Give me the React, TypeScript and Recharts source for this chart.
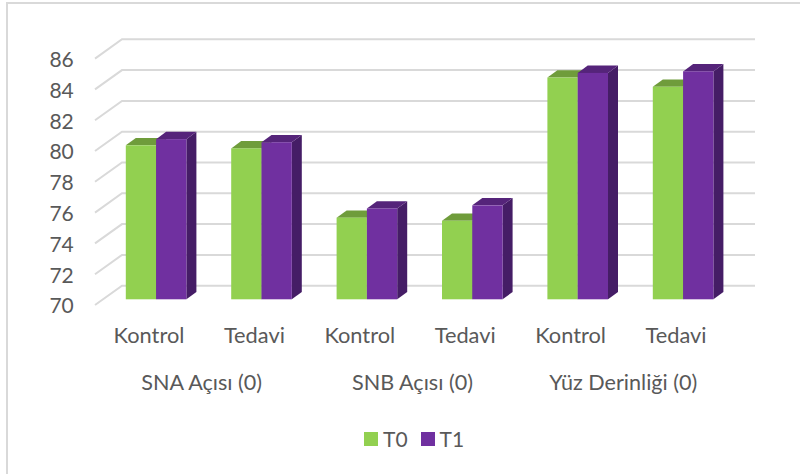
import { Bar, BarChart, CartesianGrid, Legend, XAxis, YAxis } from "recharts";

const categories = ["Kontrol", "Tedavi", "Kontrol", "Tedavi", "Kontrol", "Tedavi"];
const groups = ["SNA Açısı (0)", "SNA Açısı (0)", "SNB Açısı (0)", "SNB Açısı (0)", "Yüz Derinliği (0)", "Yüz Derinliği (0)"];
const t0Values = [80.0, 79.8, 75.3, 75.1, 84.4, 83.8];
const t1Values = [80.4, 80.2, 75.9, 76.1, 84.7, 84.8];
const yTicks = [70, 72, 74, 76, 78, 80, 82, 84, 86];

const rows = categories.map((category, i) => ({
  category,
  group: groups[i],
  T0: t0Values[i],
  T1: t1Values[i],
}));

const TEXT = "#595959";
const FONT = "Lato, sans-serif";
const DEPTH_X = 10;
const DEPTH_Y = 7.3;

// front face + top + side, so the bars look like the 3D columns of the original
const Bar3D = ({ x, y, width, height, fill, topFill, sideFill }: any) => (
  <g>
    <polygon
      points={`${x + width},${y} ${x + width + DEPTH_X},${y - DEPTH_Y} ${x + width + DEPTH_X},${y + height - DEPTH_Y} ${x + width},${y + height}`}
      fill={sideFill}
    />
    <polygon
      points={`${x},${y} ${x + DEPTH_X},${y - DEPTH_Y} ${x + width + DEPTH_X},${y - DEPTH_Y} ${x + width},${y}`}
      fill={topFill}
    />
    <rect x={x} y={y} width={width} height={height} fill={fill} />
  </g>
);

// grid runs along the floor side wall and then the back wall
const gridLine = ({ x1, y1, key }: any) => (
  <polyline
    key={key}
    points={`${x1 - 8.8},${y1 + 5.7} ${x1 + 18.2},${y1 - 13.6} 755,${y1 - 13.6}`}
    fill="none"
    stroke="#d9d9d9"
    strokeWidth={2}
  />
);

const YTick = ({ x, y, payload }: any) => (
  <text x={x} y={y + 14} textAnchor="end" fill={TEXT} fontSize={21} fontFamily={FONT}>
    {payload.value}
  </text>
);

const CategoryTick = ({ x, y, payload }: any) => (
  <text x={x - 7.5} y={y + 36} textAnchor="middle" fill={TEXT} fontSize={21.8} fontFamily={FONT}>
    {payload.value}
  </text>
);

const GroupTick = ({ x, y, payload, index }: any) =>
  index % 2 === 0 ? (
    <text x={x + 45.2} y={y + 38} textAnchor="middle" fill={TEXT} fontSize={21.6} fontFamily={FONT}>
      {payload.value}
    </text>
  ) : null;

const LegendContent = ({ payload }: any) => (
  <div style={{ display: "flex", alignItems: "center", fontFamily: FONT, fontSize: 21, color: TEXT, lineHeight: "24px" }}>
    {(payload || []).map((item: any) => (
      <div key={item.value} style={{ display: "flex", alignItems: "center", marginRight: 13 }}>
        <span style={{ width: 14, height: 14, background: item.color, marginRight: 5 }} />
        {item.value}
      </div>
    ))}
  </div>
);

const App = () => {
  return (
    <div style={{ position: "absolute", left: 0, top: 0, width: 800, height: 474, background: "#fff", overflow: "hidden" }}>
      <div
        style={{
          position: "absolute",
          left: 6,
          top: 2,
          right: 0,
          bottom: 0,
          borderLeft: "2px solid #d9d9d9",
          borderTop: "2px solid #d9d9d9",
        }}
      />
      <BarChart
        width={800}
        height={474}
        data={rows}
        barSize={30.3}
        barGap={0}
        margin={{ top: 52.9, right: 63.8, bottom: 84.7, left: 43.8 }}
      >
        <CartesianGrid vertical={false} horizontal={gridLine} />
        <YAxis
          width={60}
          domain={[70, 86]}
          ticks={yTicks}
          interval={0}
          axisLine={false}
          tickLine={false}
          tickSize={0}
          tickMargin={30}
          tick={<YTick />}
        />
        <XAxis xAxisId={0} dataKey="category" height={45} interval={0} axisLine={false} tickLine={false} tick={<CategoryTick />} />
        <XAxis xAxisId={1} dataKey="group" height={45} interval={0} axisLine={false} tickLine={false} tick={<GroupTick />} />
        <Legend
          layout="horizontal"
          verticalAlign="middle"
          align="center"
          content={<LegendContent />}
          wrapperStyle={{ left: 364, top: 427, width: "auto", height: 24 }}
        />
        <Bar
          xAxisId={0}
          dataKey="T0"
          fill="#92d050"
          isAnimationActive={false}
          shape={(props: any) => <Bar3D {...props} topFill="#6f9c3b" sideFill="#577a2e" />}
        />
        <Bar
          xAxisId={0}
          dataKey="T1"
          fill="#7030a0"
          isAnimationActive={false}
          shape={(props: any) => <Bar3D {...props} topFill="#55247a" sideFill="#451d66" />}
        />
      </BarChart>
    </div>
  );
};

export default App;
